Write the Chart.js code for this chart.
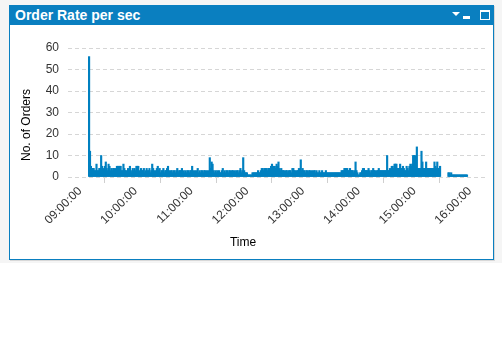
<!DOCTYPE html>
<html><head><meta charset="utf-8">
<script src="https://cdn.jsdelivr.net/npm/chart.js@4/dist/chart.umd.min.js"></script>
<style>
html,body{margin:0;padding:0;background:#fff;width:502px;height:363px;overflow:hidden;font-family:"Liberation Sans",Arial,sans-serif}
#bg{position:absolute;left:0;top:0;width:502px;height:263px;background:#f5f5f5}
#panel{position:absolute;left:9px;top:5px;width:483px;height:253px;border:1px solid #0a7fc0;background:#fff;box-shadow:1px 1px 0 #d8d8d8}
#hdr{position:absolute;left:0;top:0;width:483px;height:19px;background:#0a7fc0;color:#fff}
#hdr .t{position:absolute;left:5px;top:1px;font:bold 14px "Liberation Sans",Arial,sans-serif;line-height:17px;white-space:nowrap}
#tri{position:absolute;left:442px;top:6px;width:0;height:0;border-left:4px solid transparent;border-right:4px solid transparent;border-top:4px solid #fff}
#min{position:absolute;left:453px;top:10px;width:7px;height:3px;background:#fff}
#max{position:absolute;left:470px;top:4px;width:8px;height:7px;border:1px solid #fff;border-top-width:2px}
#wrap{position:absolute;left:0;top:19px;width:483px;height:234px}
</style></head>
<body>
<div id="bg"></div>
<div id="panel">
  <div id="hdr"><span class="t">Order Rate per sec</span><div id="tri"></div><div id="min"></div><div id="max"></div></div>
  <div id="wrap"><canvas id="c" width="483" height="234"></canvas></div>
</div>
<script>
// ---- data ----
const hourTicks = [0, 60, 120, 180, 240, 300, 360, 420];        // minutes after 09:00
const hourLabels = ['09:00:00','10:00:00','11:00:00','12:00:00','13:00:00','14:00:00','15:00:00','16:00:00'];
const yTitle = 'No. of Orders';
const xTitle = 'Time';
const seg1Start = '09:13';
const seg1Orders = [
 56,12,5,4,4,4,3,3,6,3,
 3,4,4,10,5,3,4,5,7,4,
 3,6,5,3,4,3,4,4,3,4,
 5,5,5,5,5,3,3,6,4,3,
 3,2,4,3,5,3,2,4,3,4,
 3,5,5,5,3,2,4,3,3,4,
 2,3,4,3,3,4,2,3,6,4,
 3,2,3,4,5,3,4,2,3,3,
 4,2,3,3,4,5,3,2,3,3,
 2,3,3,2,3,4,2,3,3,3,
 4,2,3,2,3,2,3,3,2,3,
 3,5,3,2,3,2,3,4,2,3,
 2,3,3,2,3,3,2,3,2,3,
 9,4,7,6,3,2,3,2,3,2,
 3,2,2,3,4,2,3,2,3,3,
 2,3,3,2,3,3,2,3,2,3,
 3,2,3,4,2,3,9,3,2,2,
 2,1,1,1,1,1,2,2,2,2,
 2,2,3,2,2,3,4,4,3,4,
 4,4,3,4,4,4,5,6,5,3,
 5,4,6,5,7,4,3,4,3,3,
 3,2,3,3,2,3,3,3,2,4,
 4,3,3,2,3,3,4,3,8,3,
 4,3,3,2,3,3,2,3,3,2,
 3,2,3,3,2,3,2,2,3,2,
 2,3,2,2,2,3,2,2,2,2,
 2,2,2,2,2,2,2,2,2,2,
 2,2,3,3,3,4,4,4,4,3,
 3,4,3,3,3,2,3,7,3,2,
 1,1,2,2,3,4,4,3,3,3,
 3,4,3,2,3,3,4,3,3,2,
 3,3,4,3,3,3,3,3,3,3,
 3,10,3,3,4,3,5,5,4,6,
 6,6,4,4,4,6,4,4,5,4,
 3,3,5,4,3,5,6,5,6,10,
 10,10,7,14,4,4,4,4,12,7,
 4,4,4,7,4,4,4,4,4,4,
 4,4,7,5,4,7,4,4,5
];
const seg2Start = '15:40';
const seg2Orders = [2,2,1,2,1,1,1,1,1,1,1,1,1,1,1,1,1,1,1,1,1];

// ---- build ----
function minutesFrom9(hhmm){ const [h,m] = hhmm.split(':').map(Number); return (h-9)*60+m; }
const points = [];
[[seg1Start, seg1Orders],[seg2Start, seg2Orders]].forEach(([s, vals]) => {
  const m0 = minutesFrom9(s);
  vals.forEach((v, i) => points.push({x: m0 + i, y: v}));
});

const FONT = '"Liberation Sans", Arial, sans-serif';
Chart.defaults.font.family = FONT;
Chart.defaults.font.size = 12;

const titlesPlugin = {
  id: 'titles',
  afterDraw(chart){
    const ctx = chart.ctx;
    ctx.save();
    ctx.fillStyle = '#000';
    ctx.font = '12px ' + FONT;
    ctx.textAlign = 'center';
    ctx.textBaseline = 'middle';
    ctx.fillText(xTitle, 233, 218);
    ctx.translate(17, 100);
    ctx.rotate(-Math.PI/2);
    ctx.fillText(yTitle, 0, 0);
    ctx.restore();
  }
};

new Chart(document.getElementById('c'), {
  type: 'bar',
  data: { datasets: [{
    data: points,
    backgroundColor: '#0080c0',
    borderWidth: 0,
    barThickness: 1.5,
    grouped: false
  }]},
  options: {
    responsive: false,
    animation: false,
    events: [],
    layout: { padding: { top: 23, right: 8, bottom: 0, left: 0 } },
    plugins: { legend: { display: false }, tooltip: { enabled: false } },
    scales: {
      x: {
        type: 'linear',
        min: -9.7, max: 439.4,
        offset: false,
        afterBuildTicks: s => { s.ticks = hourTicks.map(v => ({ value: v })); },
        afterFit: s => { s.height = 82; s.paddingLeft = 0; s.paddingRight = 0; },
        ticks: {
          autoSkip: false, maxRotation: 45, minRotation: 45,
          color: '#333', padding: 1, labelOffset: 3,
          callback: v => hourLabels[hourTicks.indexOf(v)]
        },
        grid: { drawOnChartArea: false, drawTicks: true, tickLength: 6, color: '#cfcfcf' },
        border: { display: false }
      },
      y: {
        min: 0, max: 60,
        afterFit: s => { s.width = 58; s.paddingTop = 0; s.paddingBottom = 0; },
        ticks: { stepSize: 10, color: '#333', padding: 9 },
        grid: { color: '#d6d6d6', drawTicks: false },
        border: { display: false, dash: [4, 3] }
      }
    }
  },
  plugins: [titlesPlugin]
});
</script>
</body></html>
